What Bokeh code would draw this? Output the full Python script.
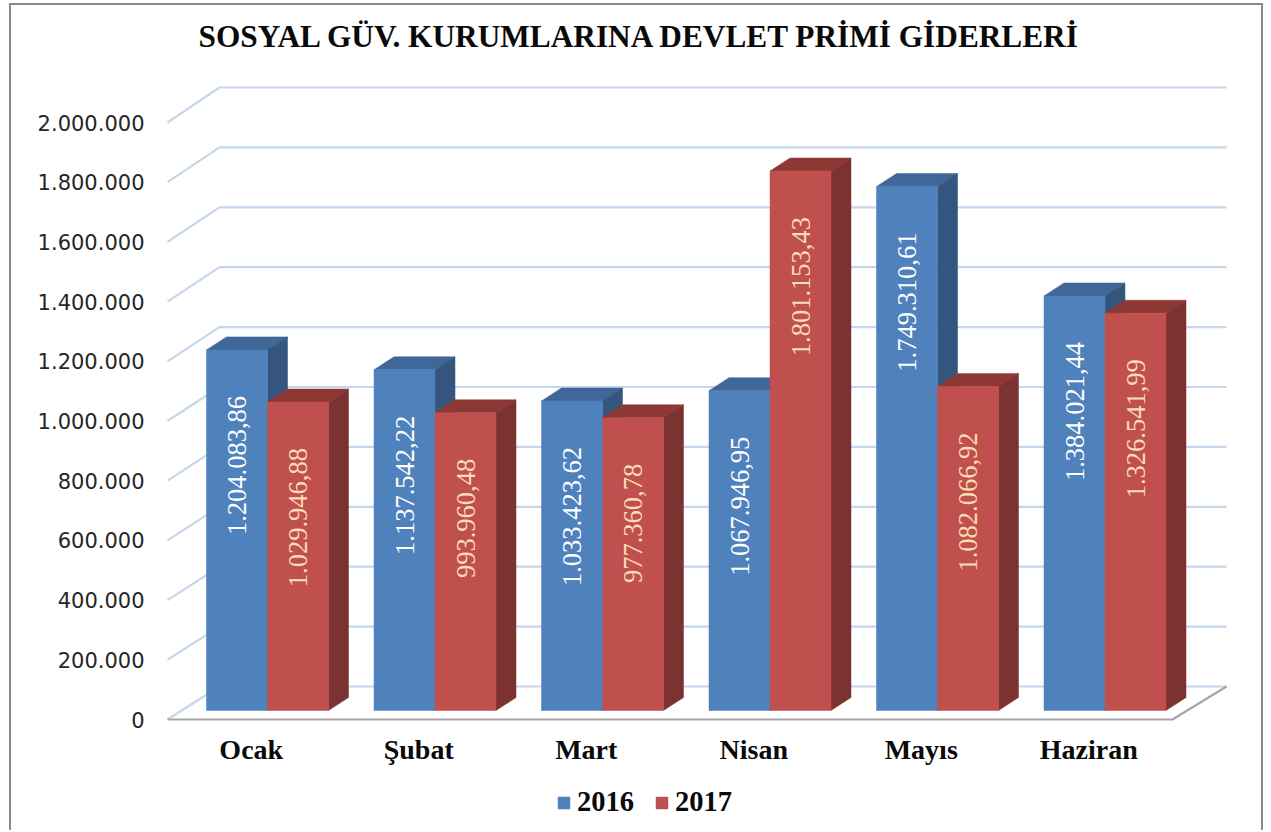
from bokeh.plotting import figure
from bokeh.models import Range1d, LinearAxis, FixedTicker, Legend, LegendItem, Title
from bokeh.core.properties import value
from bokeh.embed import file_html
from bokeh.resources import INLINE
import math

title_text = "SOSYAL GÜV. KURUMLARINA DEVLET PRİMİ GİDERLERİ"
months = ["Ocak", "Şubat", "Mart", "Nisan", "Mayıs", "Haziran"]
series_names = ["2016", "2017"]
values_2016 = [1204083.86, 1137542.22, 1033423.62, 1067946.95, 1749310.61, 1384021.44]
values_2017 = [1029946.88, 993960.48, 977360.78, 1801153.43, 1082066.92, 1326541.99]
y_ticks = [0, 200000, 400000, 600000, 800000, 1000000, 1200000, 1400000, 1600000, 1800000, 2000000]
y_tick_labels = ["0", "200.000", "400.000", "600.000", "800.000", "1.000.000", "1.200.000",
                 "1.400.000", "1.600.000", "1.800.000", "2.000.000"]

# geometry (page pixels), all converted to data units for the library's scales
CANVAS_W, CANVAS_H = 1254, 827
PAGE_X, PAGE_Y = 11, 5
F_L, F_R, F_T, F_B = 150, 1240, 60, 832
GROUP = 167.5
WALL_X0 = 167
K = 599 / 2000000          # px per unit
BASE_PX = 710
FRONT_K = 597 / 2000000
FRONT_PX = 719
X_AXIS_PX = 717

def ux(px):
    return (px - WALL_X0) / GROUP

def uy(px):
    return (BASE_PX - px) / K

def fmt(v):
    return f"{v:,.2f}".replace(",", "#").replace(".", ",").replace("#", ".")

p = figure(width=CANVAS_W, height=CANVAS_H, output_backend="svg", toolbar_location=None,
           x_range=Range1d(ux(F_L), ux(F_R)), y_range=Range1d(uy(F_B), uy(F_T)),
           min_border_left=F_L - PAGE_X, min_border_right=PAGE_X + CANVAS_W - F_R,
           min_border_top=F_T - PAGE_Y, min_border_bottom=0,
           background_fill_color="white", border_fill_color="white", outline_line_color=None,
           x_axis_location=None, y_axis_location=None)
p.grid.visible = False
p.styles = {"margin-top": "3px", "margin-left": "9px", "border-top": "2px solid #8a8a8a",
            "border-left": "2px solid #8a8a8a", "border-right": "2px solid #8a8a8a"}

t = Title(text=title_text, text_font="Liberation Serif", text_font_style="bold", text_font_size="31.3px",
          text_color="#0a0a0a", align="left", offset=48, standoff=14)
p.add_layout(t, "above")

# walls and floor
n = len(months)
back_x = ux(WALL_X0 + 52)
back_dy = 24 / K
wall_xs, wall_ys = [], []
for v in y_ticks:
    fy = uy(FRONT_PX - v * FRONT_K)
    wall_xs.append([ux(WALL_X0), back_x, ux(1226)])
    wall_ys.append([fy, v + back_dy, v + back_dy])
p.multi_line(wall_xs, wall_ys, line_color="#c6d6ec", line_width=2.2)
p.line([ux(WALL_X0), ux(1172), ux(1226)], [uy(FRONT_PX), uy(FRONT_PX), uy(686)], line_color="#a6a6a6", line_width=2.2)

# bars
BAR_W = 61 / GROUP
BAR_X0 = ux(206)
DX = 20 / GROUP
DY = 13 / K
styles = {
    "2016": dict(front="#4f81bd", top="#3f6797", side="#34557e", text="#ffffff", off=0.0),
    "2017": dict(front="#c0504d", top="#8e3836", side="#7b3230", text="#fbdcb4", off=BAR_W),
}
legend_r = {}
for i in range(n):
    for name, vals in (("2016", values_2016), ("2017", values_2017)):
        s = styles[name]
        v = vals[i]
        l = BAR_X0 + i + s["off"]
        r = l + BAR_W
        p.patch([l, l + DX, r + DX, r], [v, v + DY, v + DY, v], fill_color=s["top"], line_color=s["top"], line_width=0.5)
        p.patch([r, r + DX, r + DX, r], [0, DY, v + DY, v], fill_color=s["side"], line_color=s["side"], line_width=0.5)
        q = p.quad(left=[l], right=[r], bottom=[0], top=[v], fill_color=s["front"], line_color=s["front"], line_width=0.5)
        legend_r.setdefault(name, q)
        p.text([(l + r) / 2], [v - 46 / K], text=[fmt(v)], angle=math.pi / 2, text_align="right",
               text_baseline="middle", text_color=s["text"], text_font=value("Liberation Serif"),
               text_font_size="26.5px")

# axes
p.extra_y_ranges = {"front": Range1d((FRONT_PX - F_B) / FRONT_K, (FRONT_PX - F_T) / FRONT_K)}
ya = LinearAxis(y_range_name="front", ticker=FixedTicker(ticks=y_ticks),
                major_label_overrides=dict(zip(y_ticks, y_tick_labels)),
                axis_line_color=None, major_tick_line_color=None, minor_tick_line_color=None,
                major_label_text_font="DejaVu Sans", major_label_text_font_size="21px",
                major_label_text_color="#262626", major_label_standoff=0)
p.add_layout(ya, "left")

tick_x = [i + 0.5 for i in range(n)]
xa = LinearAxis(ticker=FixedTicker(ticks=tick_x), major_label_overrides=dict(zip(tick_x, months)),
                axis_line_color=None, major_tick_line_color=None, minor_tick_line_color=None,
                major_label_text_font="Liberation Serif", major_label_text_font_style="bold",
                major_label_text_font_size="28px", major_label_text_color="#0a0a0a", major_label_standoff=10,
                fixed_location=uy(X_AXIS_PX))
p.add_layout(xa, "below")

legend = Legend(items=[LegendItem(label=nm, renderers=[legend_r[nm]]) for nm in series_names],
                orientation="horizontal", location=(556 - F_L, F_B - 818), border_line_color=None,
                background_fill_alpha=0, glyph_width=15, glyph_height=15, label_standoff=6, spacing=20,
                label_text_font="Liberation Serif", label_text_font_style="bold", label_text_font_size="28.5px",
                label_text_color="#0a0a0a", margin=0, padding=0)
p.add_layout(legend, "center")

open("out.html", "w").write(file_html(p, INLINE))
